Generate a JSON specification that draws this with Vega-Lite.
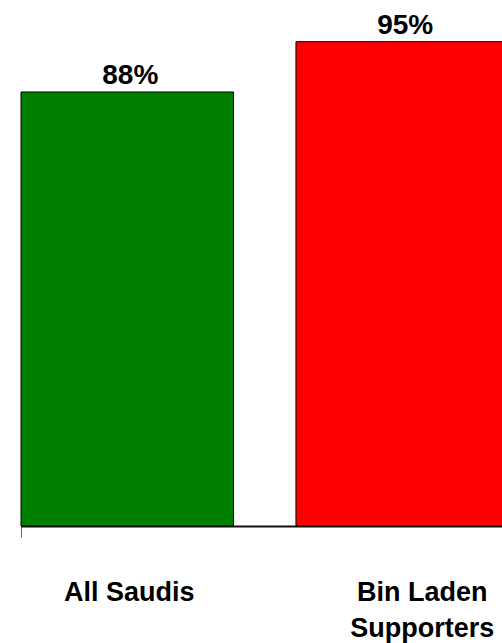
{
  "$schema": "https://vega.github.io/schema/vega-lite/v6.json",
  "width": 481,
  "height": 526,
  "autosize": {"type": "none"},
  "padding": {"left": 21, "top": 0, "right": 0, "bottom": 117},
  "background": "white",
  "config": {"view": {"stroke": null}},
  "data": {"values": [
    {"group": "All Saudis", "value": 88, "label": "88%"},
    {"group": "Bin Laden Supporters", "value": 95, "label": "95%"}
  ]},
  "encoding": {
    "x": {
      "field": "group", "type": "nominal", "sort": null,
      "scale": {"range": [0, 487.5], "paddingInner": 0.227, "paddingOuter": 0},
      "axis": {
        "title": null,
        "bandPosition": 0,
        "domainColor": "#111111",
        "domainWidth": 2,
        "tickSize": 11,
        "tickWidth": 1,
        "tickColor": "#666666",
        "tickOpacity": {"condition": {"test": "datum.value == 'All Saudis'", "value": 1}, "value": 0},
        "labelOffset": {"condition": {"test": "datum.value == 'All Saudis'", "value": 2}, "value": 20},
        "labelAngle": 0,
        "labelAlign": "center",
        "labelFont": "Liberation Sans",
        "labelFontWeight": "bold",
        "labelFontSize": 27,
        "labelColor": "black",
        "labelBaseline": "top",
        "labelPadding": 42,
        "labelLineHeight": 36,
        "labelExpr": "datum.value == 'Bin Laden Supporters' ? ['Bin Laden', 'Supporters'] : datum.label",
        "labelOverlap": false,
        "labelBound": false,
        "labelFlush": false,
        "labelLimit": 0
      }
    },
    "y": {
      "field": "value", "type": "quantitative",
      "scale": {"domain": [27.6, 100.8], "zero": false, "nice": false},
      "axis": null
    }
  },
  "layer": [
    {
      "mark": {"type": "bar", "stroke": "black", "strokeWidth": 1},
      "encoding": {
        "y2": {"datum": 27.6},
        "color": {"field": "group", "type": "nominal", "sort": null, "scale": {"range": ["#008000", "#ff0000"]}, "legend": null}
      }
    },
    {
      "mark": {"type": "text", "baseline": "alphabetic", "dy": -8, "dx": 3, "font": "Liberation Sans", "fontWeight": "bold", "fontSize": 28, "color": "black"},
      "encoding": {"text": {"field": "label"}}
    }
  ]
}
